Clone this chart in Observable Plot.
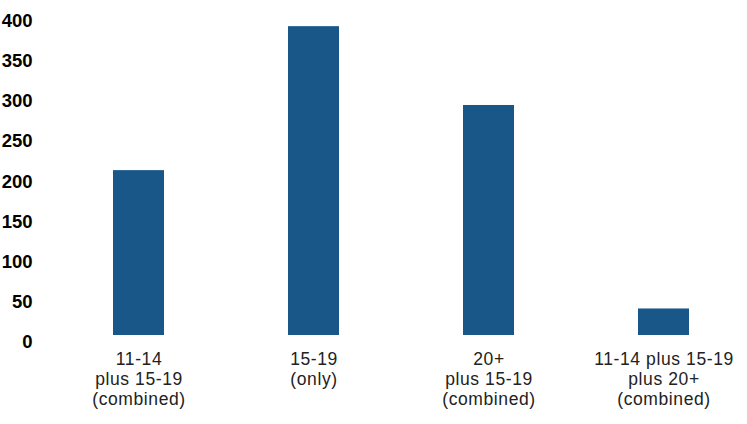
<!DOCTYPE html>
<html>
<head>
<meta charset="utf-8">
<script src="https://cdn.jsdelivr.net/npm/d3@7"></script>
<script src="https://cdn.jsdelivr.net/npm/@observablehq/plot@0.6"></script>
<style>
  html, body { margin: 0; padding: 0; background: #fff; }
  #chart svg { display: block; }
  #chart g[aria-label="x-axis tick label"] text { letter-spacing: 0.6px; }
</style>
</head>
<body>
<div id="chart"></div>
<script>
const categories = [
  "11-14\nplus 15-19\n(combined)",
  "15-19\n(only)",
  "20+\nplus 15-19\n(combined)",
  "11-14 plus 15-19\nplus 20+\n(combined)"
];
const values = [205, 384, 286, 33];
const yTicks = [0, 50, 100, 150, 200, 250, 300, 350, 400];

const data = categories.map((c, i) => ({category: c, value: values[i]}));

const chart = Plot.plot({
  width: 747,
  height: 424,
  marginLeft: 50,
  marginRight: 0,
  marginTop: 13,
  marginBottom: 89,
  style: {fontFamily: "'Liberation Sans', Arial, sans-serif", background: "#fff", overflow: "visible"},
  x: {domain: categories, range: [50, 752], paddingInner: 0.71, paddingOuter: 0.355},
  y: {domain: [0, 400], range: [335, 13.3]},
  marks: [
    Plot.barY(data, {x: "category", y: "value", fill: "#185788"}),
    Plot.axisY({
      ticks: yTicks,
      tickSize: 0,
      tickPadding: 18,
      dy: 7,
      fontSize: 18.5,
      fontWeight: "bold",
      fill: "#000",
      label: null
    }),
    Plot.axisX({
      tickSize: 0,
      tickPadding: 15,
      fontSize: 17.5,
      lineHeight: 1.143,
      fill: "#222",
      label: null
    })
  ]
});
document.getElementById("chart").appendChild(chart);
</script>
</body>
</html>
